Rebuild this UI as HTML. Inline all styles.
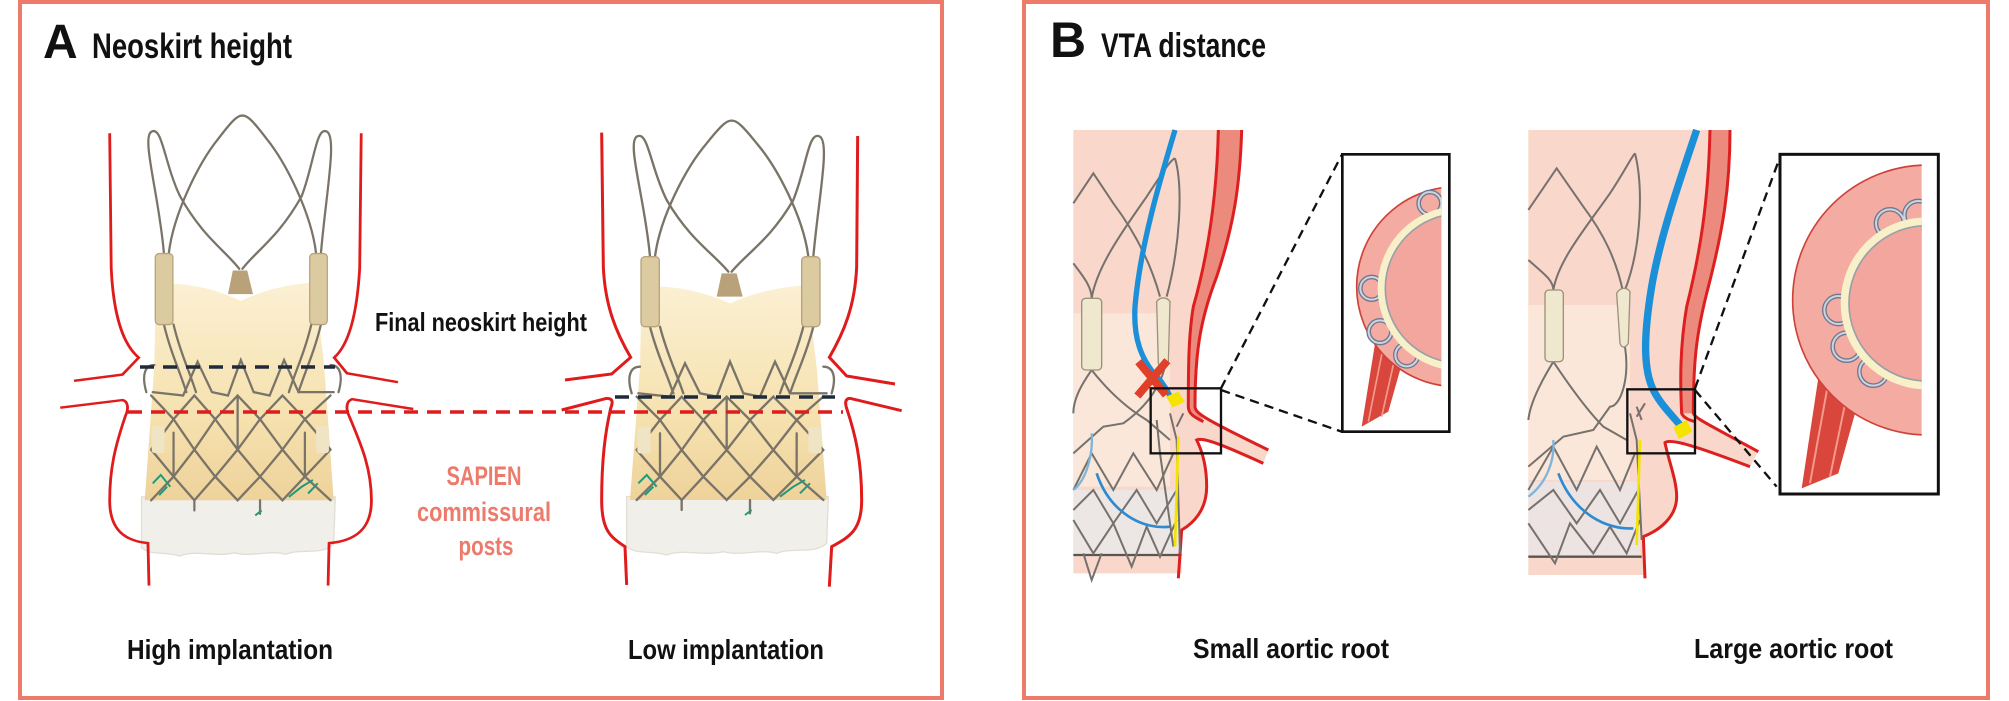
<!DOCTYPE html>
<html><head><meta charset="utf-8"><style>
html,body{margin:0;padding:0;background:#fff;}
svg{display:block;}
text{font-family:"Liberation Sans Narrow","Liberation Sans",sans-serif;font-weight:bold;}
</style></head><body>
<svg width="2009" height="701" viewBox="0 0 2009 701" xmlns="http://www.w3.org/2000/svg">
<defs>
<linearGradient id="yel" x1="0" y1="0" x2="0" y2="1">
<stop offset="0" stop-color="#fbf0d3"/><stop offset="0.6" stop-color="#f6e2b0"/><stop offset="1" stop-color="#eed29a"/>
</linearGradient>
<g id="valve">
<path d="M200,1190 L805,1190 L800,1330 C760,1365 700,1340 650,1360 C600,1345 540,1370 490,1355 C430,1370 370,1345 320,1365 C270,1350 230,1365 200,1340 Z" fill="#f1efea" stroke="#e2ded6" stroke-width="4"/>
<path d="M245,560 C330,555 420,570 510,610 C600,570 680,560 740,555 L770,800 L800,1200 L210,1200 L240,800 Z" fill="url(#yel)"/>
<path d="M485,520 L530,520 L548,590 L470,590 Z" fill="#b9a27a"/>
<g fill="none" stroke="#7a7468" stroke-width="7" stroke-linecap="round">
<path d="M270,470 C255,300 200,130 230,110 C265,90 270,200 320,300 C390,420 460,460 505,515"/>
<path d="M285,470 C300,350 380,200 440,130 C480,80 500,60 515,62 C530,60 550,80 590,130 C650,200 730,350 745,470"/>
<path d="M760,470 C775,300 810,130 780,110 C745,90 740,200 700,300 C630,420 560,460 515,515"/>
<path d="M270,680 C290,760 320,820 340,880 M300,680 C320,760 350,820 370,880"/>
<path d="M760,680 C740,760 710,820 690,880 M730,680 C710,760 680,820 660,880"/>
<path d="M215,880 C200,830 210,800 240,800 M815,880 C830,830 820,800 790,800"/>
<path d="M235,880 L330,890 L375,790 L420,880 L470,890 L510,785 L550,880 L600,890 L645,785 L690,880 L800,880"/>
<path d="M230,890 L300,960 L365,890 L430,960 L500,890 L570,960 L640,890 L710,960 L790,890"/>
<path d="M230,1050 L300,960 L365,1050 L430,960 L500,1050 L570,960 L640,1050 L710,960 L790,1050"/>
<path d="M230,1050 L300,1130 L365,1050 L430,1130 L500,1050 L570,1130 L640,1050 L710,1130 L790,1050"/>
<path d="M230,1200 L300,1130 L365,1200 L430,1130 L500,1200 L570,1130 L640,1200 L710,1130 L790,1200"/>
<path d="M300,1130 L300,1000 M500,1050 L500,890 M710,1130 L710,1000 M365,1200 L365,1230 M570,1200 L570,1240"/>
</g>
<rect x="243" y="470" width="55" height="210" rx="12" fill="#dccaa0" stroke="#b9a47a" stroke-width="4"/>
<rect x="725" y="470" width="55" height="210" rx="12" fill="#dccaa0" stroke="#b9a47a" stroke-width="4"/>
<rect x="232" y="980" width="40" height="80" rx="8" fill="#efe4c4"/>
<rect x="745" y="980" width="40" height="80" rx="8" fill="#efe4c4"/>
<g stroke="#1f9a7a" stroke-width="6" fill="none">
<path d="M235,1150 L260,1125 L290,1160 M255,1185 L280,1160"/>
<path d="M660,1190 L700,1160 L735,1140 M720,1180 L750,1150"/>
<path d="M555,1245 L575,1230"/>
</g>
</g>
<clipPath id="c1"><rect x="851" y="107" width="293" height="824"/></clipPath>
<clipPath id="c2"><rect x="784" y="107" width="421" height="1011"/></clipPath>
</defs>

<rect x="20" y="2" width="922" height="696" fill="none" stroke="#ec7b6c" stroke-width="4"/>
<rect x="1024" y="2" width="964" height="696" fill="none" stroke="#ec7b6c" stroke-width="4"/>

<text x="43" y="58" font-size="48" fill="#111">A</text>
<text x="92" y="58" font-size="35" fill="#111" textLength="200" lengthAdjust="spacingAndGlyphs">Neoskirt height</text>
<text x="1050" y="57" font-size="50" fill="#111">B</text>
<text x="1101" y="57" font-size="34" fill="#111" textLength="165" lengthAdjust="spacingAndGlyphs">VTA distance</text>

<use href="#valve" transform="translate(138,117) scale(0.961,1.014) translate(-623,-122) translate(560,100) scale(0.33333)"/>
<use href="#valve" transform="translate(560,100) scale(0.33333)"/>

<g transform="scale(0.5102,0.447)" fill="none" stroke="#e01b1b" stroke-width="5.5">
<path d="M215,298 L218,600 C222,700 240,770 272,800 L240,838 L145,852"/>
<path d="M708,298 L705,600 C700,700 685,770 655,800 L680,835 L780,855"/>
<path d="M118,912 L240,895 C252,898 252,915 246,930 C225,1000 215,1050 215,1120 C215,1180 240,1210 290,1215 L292,1310"/>
<path d="M810,915 L690,893 C678,898 678,915 684,930 C710,1000 728,1050 728,1120 C728,1180 700,1210 645,1215 L643,1310"/>
</g>
<g transform="translate(560,100) scale(0.33333)" fill="none" stroke="#e01b1b" stroke-width="9">
<path d="M125,98 L130,500 C135,620 170,700 212,772 L155,822 L15,840"/>
<path d="M893,108 L890,500 C885,620 850,700 808,772 L860,828 L1005,852"/>
<path d="M5,930 L140,895 C158,895 160,905 152,925 C135,1000 125,1080 125,1200 C125,1290 150,1310 195,1340 L200,1455"/>
<path d="M1025,932 L870,895 C855,895 855,910 860,925 C885,1000 905,1080 905,1200 C905,1290 870,1310 815,1340 L808,1460"/>
</g>
<line x1="140" y1="367" x2="335" y2="367" stroke="#1f2a3a" stroke-width="3.5" stroke-dasharray="14,9"/>
<line x1="615" y1="397" x2="835" y2="397" stroke="#1f2a3a" stroke-width="3.5" stroke-dasharray="14,9"/>
<line x1="128" y1="412" x2="843" y2="412" stroke="#e01b1b" stroke-width="3.5" stroke-dasharray="14,9"/>

<text x="375" y="331" font-size="26" fill="#111" textLength="212" lengthAdjust="spacingAndGlyphs">Final neoskirt height</text>
<text x="484" y="485" font-size="27" fill="#ec7b6c" text-anchor="middle" textLength="75" lengthAdjust="spacingAndGlyphs">SAPIEN</text>
<text x="484" y="521" font-size="27" fill="#ec7b6c" text-anchor="middle" textLength="134" lengthAdjust="spacingAndGlyphs">commissural</text>
<text x="486" y="555" font-size="27" fill="#ec7b6c" text-anchor="middle" textLength="55" lengthAdjust="spacingAndGlyphs">posts</text>
<text x="127" y="659" font-size="28" fill="#111" textLength="206" lengthAdjust="spacingAndGlyphs">High implantation</text>
<text x="628" y="659" font-size="28" fill="#111" textLength="196" lengthAdjust="spacingAndGlyphs">Low implantation</text>

<g transform="translate(1060,120) scale(0.33333)">
<path d="M40,30 L545,30 C540,200 520,320 470,470 C420,600 405,700 405,860 C405,880 440,900 625,990 L610,1030 C500,980 430,950 410,960 C430,1000 440,1050 440,1100 C440,1170 400,1210 365,1230 L365,1360 L40,1360 Z" fill="#f9d7ca"/>
<rect x="40" y="580" width="290" height="520" fill="#fbe7da"/>
<rect x="40" y="1110" width="320" height="195" fill="#ece7e5"/>
<line x1="40" y1="1305" x2="365" y2="1305" stroke="#5a5550" stroke-width="7"/>
<path d="M475,30 C470,250 440,420 400,560 C385,650 385,750 385,860 C395,880 410,890 430,900 L405,860 C405,700 420,600 470,470 C520,320 540,200 545,30 Z" fill="#ec8a7d"/>
<g fill="none" stroke="#dd1f1f" stroke-width="9">
<path d="M545,30 C540,200 520,320 470,470 C420,600 405,700 405,860 C405,880 440,900 625,990"/>
<path d="M475,30 C470,250 440,420 400,560 C385,650 385,750 385,860 C385,880 400,890 430,905"/>
<path d="M610,1030 C500,980 430,950 410,960 C430,1000 440,1050 440,1100 C440,1170 400,1210 365,1230 L355,1375"/>
</g>
<g fill="none" stroke="#75716c" stroke-width="6">
<path d="M40,250 L100,160 L160,250 C220,330 270,420 300,530"/>
<path d="M40,430 C70,470 95,500 95,535"/>
<path d="M95,535 C110,440 190,330 260,230 C300,170 330,120 345,115"/>
<path d="M345,115 C370,200 360,380 320,530"/>
<path d="M95,750 C60,800 40,840 40,880 M95,750 C150,820 210,870 260,900 L330,960"/>
<path d="M315,740 C300,800 260,860 190,910 L130,920 L40,1000"/>
<path d="M40,1110 L95,1000 L160,1110 L220,1000 L290,1110 L340,1000"/>
<path d="M40,1170 L100,1110 L160,1210 L230,1110 L290,1210 L350,1110"/>
<path d="M40,1200 L100,1300 L160,1210 L215,1340 L260,1220 L300,1310 L350,1200"/>
<path d="M70,1300 L95,1380 L125,1300"/>
<path d="M290,900 L300,1000 L340,1280 M330,880 L350,960 L360,1300 M370,880 L350,920"/>
</g>
<path d="M95,940 C100,1000 80,1080 40,1110" fill="none" stroke="#7fb5db" stroke-width="7"/>
<path d="M110,1060 C150,1180 250,1230 330,1220" fill="none" stroke="#2f8ad0" stroke-width="8"/>
<path d="M355,950 L345,1280" stroke="#f3e400" stroke-width="8"/>
<rect x="65" y="535" width="60" height="215" rx="12" fill="#efe8cf" stroke="#9a927a" stroke-width="4"/>
<path d="M290,545 C300,530 320,530 330,545 L325,730 C315,745 300,745 295,730 Z" fill="#efe8cf" stroke="#9a927a" stroke-width="4"/>
<path d="M345,30 C300,180 240,380 225,560 C220,650 240,720 300,780 C315,800 325,815 330,830" fill="none" stroke="#1b8fd8" stroke-width="16"/>
<polygon points="318,830 355,815 375,845 338,862" fill="#f5e400"/>
<path d="M235,725 L318,825 M322,722 L232,828" stroke="#e0402a" stroke-width="24"/>
<rect x="272" y="805" width="211" height="195" fill="none" stroke="#111" stroke-width="7"/>
<path d="M483,805 L845,105 M483,810 L845,935" stroke="#111" stroke-width="7" stroke-dasharray="28,18"/>
<rect x="847" y="103" width="321" height="832" fill="#fff" stroke="#111" stroke-width="8"/>
<g clip-path="url(#c1)">
<polygon points="950,640 1040,680 985,875 905,920" fill="#d9463c"/>
<path d="M970,680 L925,905 M1010,690 L965,890" stroke="#f49a8e" stroke-width="5"/>
<circle cx="1190" cy="500" r="300" fill="#f4aca2" stroke="#cf4238" stroke-width="5"/>
<g fill="none" stroke="#6d7890" stroke-width="14"><circle cx="1110" cy="250" r="34"/><circle cx="935" cy="505" r="34"/><circle cx="960" cy="635" r="34"/><circle cx="1040" cy="705" r="34"/></g>
<g fill="none" stroke="#cfd3dc" stroke-width="6"><circle cx="1110" cy="250" r="34"/><circle cx="935" cy="505" r="34"/><circle cx="960" cy="635" r="34"/><circle cx="1040" cy="705" r="34"/></g>
<circle cx="1200" cy="505" r="235" fill="#f2a69d" stroke="#f8f0c8" stroke-width="24"/>
<circle cx="1200" cy="505" r="224" fill="none" stroke="#9aa0a8" stroke-width="5"/>
</g>
</g>

<g transform="translate(1520,120) scale(0.33333)">
<path d="M25,30 L630,30 C630,200 610,330 560,520 C530,640 520,720 520,880 C525,895 560,910 715,995 L690,1040 C520,975 450,955 435,968 C445,1020 470,1080 470,1130 C470,1190 420,1230 370,1250 L375,1365 L25,1365 Z" fill="#f9d7ca"/>
<rect x="25" y="555" width="305" height="525" fill="#fbe7da"/>
<rect x="25" y="1085" width="335" height="225" fill="#ece3e2"/>
<line x1="25" y1="1310" x2="365" y2="1310" stroke="#5a5550" stroke-width="7"/>
<path d="M570,30 C565,250 540,400 500,560 C480,680 480,780 485,880 L520,880 C520,720 530,640 560,520 C610,330 630,200 630,30 Z" fill="#ec8a7d"/>
<g fill="none" stroke="#dd1f1f" stroke-width="9">
<path d="M630,30 C630,200 610,330 560,520 C530,640 520,720 520,880 C525,895 560,910 715,995"/>
<path d="M570,30 C565,250 540,400 500,560 C480,680 480,780 485,880 C490,892 505,900 525,905"/>
<path d="M690,1040 C520,975 450,955 435,968 C445,1020 470,1080 470,1130 C470,1190 420,1230 370,1250 L375,1375"/>
</g>
<g fill="none" stroke="#75716c" stroke-width="6">
<path d="M25,270 L110,145 L190,260 C250,340 290,420 310,520"/>
<path d="M25,420 C70,460 100,480 100,510"/>
<path d="M100,510 C115,420 200,320 270,220 C310,160 335,110 345,100"/>
<path d="M345,100 C370,200 365,380 315,510"/>
<path d="M100,725 C60,790 30,850 25,900 M100,725 C150,800 200,870 250,920 L320,960"/>
<path d="M315,680 C330,780 300,860 270,860 L220,930 L130,950 L25,1040"/>
<path d="M25,1110 L100,980 L170,1110 L230,980 L300,1110 L345,1000"/>
<path d="M25,1170 L100,1110 L170,1210 L240,1110 L300,1210 L355,1110"/>
<path d="M25,1210 L105,1330 L150,1210 L220,1300 L270,1220 L320,1300 L360,1200"/>
<path d="M330,880 L350,960 L365,1260 M350,860 L365,900 M375,850 L350,890"/>
</g>
<path d="M100,960 C105,1020 80,1090 25,1130" fill="none" stroke="#7fb5db" stroke-width="7"/>
<path d="M115,1060 C160,1180 260,1230 340,1225" fill="none" stroke="#2f8ad0" stroke-width="8"/>
<path d="M360,960 L350,1275" stroke="#f3e400" stroke-width="8"/>
<rect x="75" y="510" width="55" height="215" rx="12" fill="#efe8cf" stroke="#9a927a" stroke-width="4"/>
<path d="M290,520 C300,502 320,500 330,515 L325,670 C315,685 305,685 300,670 Z" fill="#efe8cf" stroke="#9a927a" stroke-width="4"/>
<path d="M530,30 C480,180 420,350 395,500 C370,650 370,750 400,810 C420,850 450,880 480,915" fill="none" stroke="#1b8fd8" stroke-width="22"/>
<polygon points="460,922 500,900 517,935 477,957" fill="#f5e400"/>
<rect x="322" y="808" width="203" height="192" fill="none" stroke="#111" stroke-width="7"/>
<path d="M525,805 L775,125 M525,810 L770,1100" stroke="#111" stroke-width="7" stroke-dasharray="28,18"/>
<rect x="780" y="103" width="475" height="1019" fill="#fff" stroke="#111" stroke-width="9"/>
<g clip-path="url(#c2)">
<polygon points="900,740 1030,790 955,1060 845,1105" fill="#d9463c"/>
<path d="M930,760 L870,1090 M990,780 L930,1070" stroke="#f49a8e" stroke-width="6"/>
<circle cx="1223" cy="540" r="405" fill="#f4aca2" stroke="#cf4238" stroke-width="5"/>
<g fill="none" stroke="#6d7890" stroke-width="14"><circle cx="1110" cy="310" r="42"/><circle cx="1195" cy="285" r="42"/><circle cx="955" cy="570" r="42"/><circle cx="980" cy="680" r="42"/><circle cx="1060" cy="755" r="42"/></g>
<g fill="none" stroke="#cfd3dc" stroke-width="6"><circle cx="1110" cy="310" r="42"/><circle cx="1195" cy="285" r="42"/><circle cx="955" cy="570" r="42"/><circle cx="980" cy="680" r="42"/><circle cx="1060" cy="755" r="42"/></g>
<circle cx="1220" cy="550" r="245" fill="#f2a69d" stroke="#f8f0c8" stroke-width="26"/>
<circle cx="1220" cy="550" r="233" fill="none" stroke="#9aa0a8" stroke-width="5"/>
</g>
</g>

<text x="1193" y="658" font-size="28" fill="#111" textLength="196" lengthAdjust="spacingAndGlyphs">Small aortic root</text>
<text x="1694" y="658" font-size="28" fill="#111" textLength="199" lengthAdjust="spacingAndGlyphs">Large aortic root</text>
</svg>
</body></html>
